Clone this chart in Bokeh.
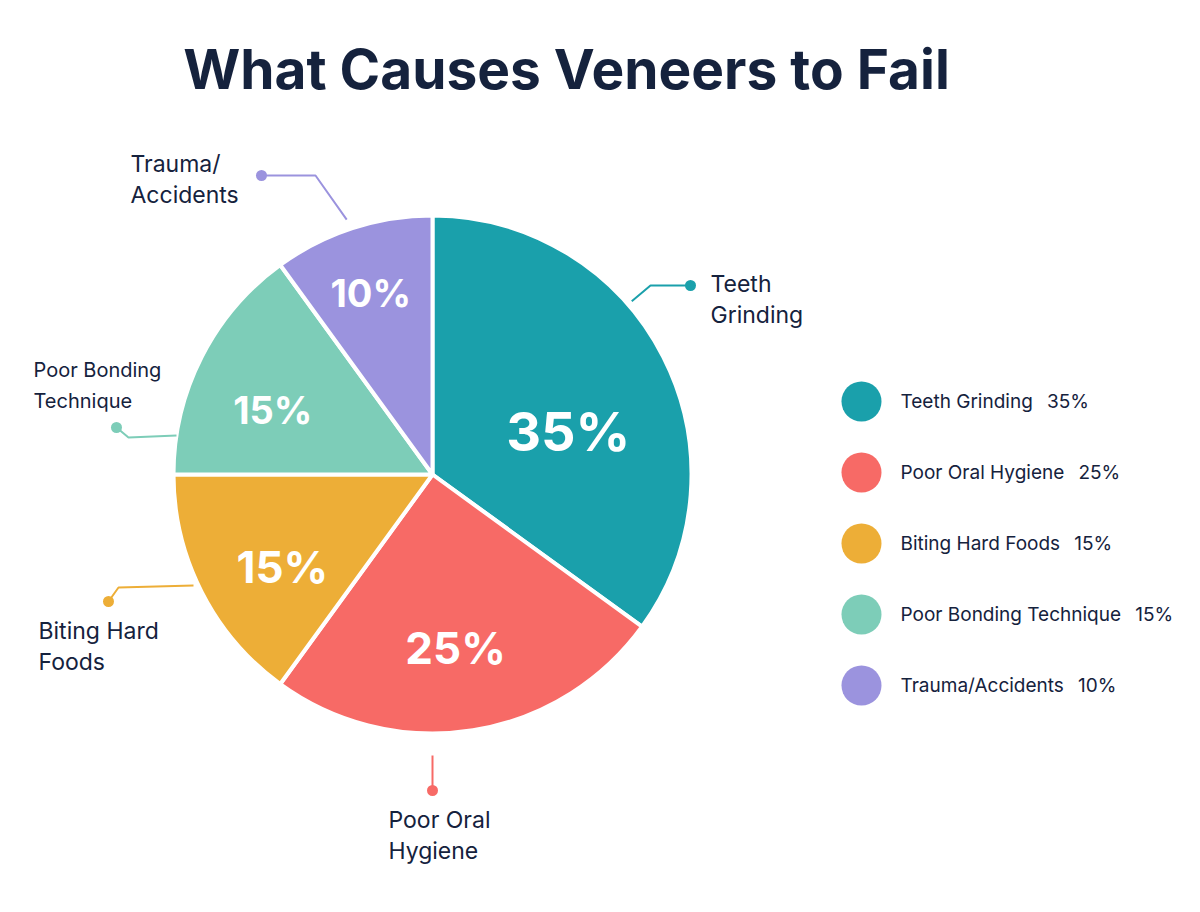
from bokeh.plotting import figure
from bokeh.models import Range1d
from bokeh.core.properties import value
from bokeh.embed import file_html
from bokeh.resources import INLINE
import math

# ---- data ----
categories = ["Teeth Grinding", "Poor Oral Hygiene", "Biting Hard Foods", "Poor Bonding Technique", "Trauma/Accidents"]
values = [35, 25, 15, 15, 10]
colors = ["#1AA0AB", "#F76A66", "#EDAE37", "#7DCDB8", "#9B93DE"]
callout_lines = [["Teeth", "Grinding"], ["Poor Oral", "Hygiene"], ["Biting Hard", "Foods"], ["Poor Bonding", "Technique"], ["Trauma/", "Accidents"]]
title = "What Causes Veneers to Fail"

# ---- layout (screen px, y from top) ----
W, H = 1200, 912
def Y(y):
    return H - y

CX, CY, R = 432, 474, 259
NAVY = "#15223D"
FONT = "Inter"

p = figure(width=W, height=H, x_range=Range1d(0, W), y_range=Range1d(0, H),
           output_backend="svg", toolbar_location=None, min_border=0)
p.axis.visible = False
p.grid.visible = False
p.outline_line_color = None
p.background_fill_color = "white"
p.border_fill_color = "white"

total = sum(values)
cum = 0
starts, ends, mids = [], [], []
for v in values:
    a0 = 90 - 360 * cum / total
    cum += v
    a1 = 90 - 360 * cum / total
    starts.append(math.radians(a1))
    ends.append(math.radians(a0))
    mids.append((a0 + a1) / 2)

p.wedge(x=[CX] * len(values), y=[Y(CY)] * len(values), radius=R,
        start_angle=starts, end_angle=ends, fill_color=colors,
        line_color="white", line_width=4)

# percent labels inside slices (radius fraction, angle offset deg)
pct_r = [0.55, 0.675, 0.68, 0.665, 0.74]
pct_da = [-9.5, -1.4, 4.5, 5.0, 0.8]
pct_size = ["54px", "44px", "44px", "38px", "38px"]
for i, v in enumerate(values):
    a = math.radians(mids[i] + pct_da[i])
    x = CX + R * pct_r[i] * math.cos(a)
    y = Y(CY) + R * pct_r[i] * math.sin(a)
    p.text(x=[x], y=[y], text=[f"{v}%"], text_color="white", text_font=value(FONT),
           text_font_style="bold", text_font_size=pct_size[i],
           text_align="center", text_baseline="middle")

# callouts: leader lines (edge angle deg, gap, via points ending at dot) and labels
edge_ang = [41, -90, None, None, 108.6]
edge_gap = [5, 22, 0, 0, 10]
leader_pts = [
    [(650, 285), (690, 285)],
    [(432, 790)],
    [(193, 585), (118, 587), (108, 601)],
    [(176, 435), (128, 437), (116, 427)],
    [(315, 175), (261, 175)],
]
label_xy = [(710, 283), (388, 819), (38, 630), (33, 369), (130, 163)]
label_size = ["23px", "23px", "23px", "20px", "23px"]
for i in range(len(values)):
    pts = leader_pts[i]
    xs = [pt[0] for pt in pts]
    ys = [Y(pt[1]) for pt in pts]
    if edge_ang[i] is not None:
        a = math.radians(edge_ang[i])
        r0 = R + edge_gap[i]
        xs = [CX + r0 * math.cos(a)] + xs
        ys = [Y(CY) + r0 * math.sin(a)] + ys
    p.line(xs, ys, line_color=colors[i], line_width=2)
    p.scatter([pts[-1][0]], [Y(pts[-1][1])], size=11, fill_color=colors[i], line_color=None)
    lx, ly = label_xy[i]
    for j, t in enumerate(callout_lines[i]):
        p.text(x=[lx], y=[Y(ly + 31 * j)], text=[t], text_color=NAVY, text_font=value(FONT),
               text_font_size=label_size[i], text_align="left", text_baseline="middle")

# legend
leg_x, leg_y0, leg_dy = 861, 401, 71
gap = "\u00a0\u00a0\u2009"
for i, c in enumerate(categories):
    yy = Y(leg_y0 + leg_dy * i)
    p.scatter([leg_x], [yy], size=40, fill_color=colors[i], line_color=None)
    p.text(x=[900], y=[yy], text=[f"{c}{gap}{values[i]}%"], text_color=NAVY,
           text_font=value(FONT), text_font_size="19px", text_align="left", text_baseline="middle")

# title
p.text(x=[566], y=[Y(68)], text=[title], text_color=NAVY, text_font=value(FONT),
       text_font_style="bold", text_font_size="55px", text_align="center", text_baseline="middle")

open("out.html", "w").write(file_html(p, INLINE))
